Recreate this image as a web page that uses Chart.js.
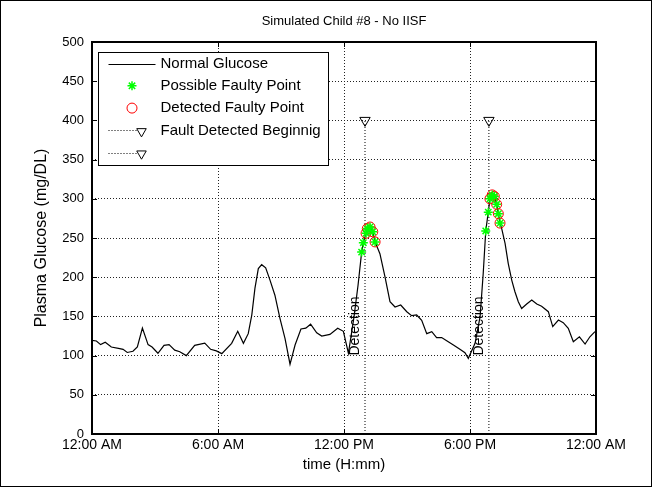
<!DOCTYPE html>
<html><head><meta charset="utf-8">
<script src="https://cdn.jsdelivr.net/npm/chart.js@4"></script>
<style>html,body{margin:0;padding:0;background:#fff;} canvas{display:block;}</style>
</head><body>
<canvas id="c" width="652" height="487"></canvas>
<script>
const chartTitle = 'Simulated Child #8 - No IISF';
const xAxisTitle = 'time (H:mm)';
const yAxisTitle = 'Plasma Glucose (mg/DL)';
const xTickLabels = ['12:00 AM', '6:00 AM', '12:00 PM', '6:00 PM', '12:00 AM'];
const legendLabels = ['Normal Glucose', 'Possible Faulty Point', 'Detected Faulty Point', 'Fault Detected Beginnig', ''];

// time in hours since midnight
const glucoseTimes = [0, 0.21, 0.41, 0.63, 0.92, 1.32, 1.48, 1.68, 1.95, 2.16, 2.40, 2.67, 2.86, 3.14, 3.43, 3.67, 3.94, 4.18, 4.49, 4.89,
  5.37, 5.65, 5.92, 6.18, 6.65, 6.94, 7.21, 7.44, 7.61, 7.76, 7.92, 8.08, 8.27, 8.48, 8.71, 8.95, 9.19, 9.43, 9.67, 9.95,
  10.18, 10.41, 10.70, 10.94, 11.33, 11.70, 11.97, 12.21, 12.48, 12.67, 12.84, 12.92, 13.05, 13.11, 13.24, 13.37, 13.48, 13.71, 13.95, 14.19,
  14.43, 14.70, 14.99, 15.22, 15.46, 15.70, 15.94, 16.18, 16.41, 16.65, 16.89, 17.21, 17.52, 17.76, 17.92, 18.24, 18.48, 18.63, 18.75, 18.87,
  18.95, 19.06, 19.16, 19.27, 19.35, 19.43, 19.51, 19.67, 19.82, 19.99, 20.14, 20.30, 20.46, 20.70, 20.94, 21.18, 21.41, 21.73, 21.94, 22.21,
  22.44, 22.68, 22.92, 23.21, 23.48, 23.71, 23.95];
const glucoseValues = [119.5, 118.6, 114, 117, 111, 109, 108, 104, 105.5, 111, 135, 114, 111, 103, 113, 114, 107, 105, 100, 113,
  116, 108, 106, 102.5, 115.7, 131, 115.7, 128, 152, 186, 211, 216, 212, 196, 177, 147.6, 122, 89, 113.5, 134,
  135, 140, 129, 125, 127, 135, 131, 103, 150, 190, 232, 244, 256, 262, 264, 258, 245, 230, 200.6, 168.8,
  162, 164.5, 156, 151, 151.8, 145, 128, 130.5, 123, 123, 119, 113.5, 108, 103.7, 96.5, 115.7, 149.6, 205, 259, 283,
  300, 305, 303, 293, 281, 269, 262, 243, 217.7, 196, 181.5, 168.8, 160, 165.8, 171, 165.8, 163, 156, 137, 145.4,
  142, 134.8, 117.8, 124, 114.8, 124, 130.5];

const faultyTimes = [12.84, 12.92, 13.05, 13.11, 13.24, 13.37, 13.48, 18.75, 18.87, 18.95, 19.06, 19.16, 19.27, 19.35, 19.43];
const faultyValues = [232, 244, 256, 262, 264, 258, 245, 259, 283, 300, 305, 303, 293, 281, 269];

const detectedTimes = [13.05, 13.11, 13.24, 13.37, 13.48, 18.95, 19.06, 19.16, 19.27, 19.35, 19.43];
const detectedValues = [256, 262, 264, 258, 245, 300, 305, 303, 293, 281, 269];

const detectionTimes = [13.0, 18.9];
const detectionMarkerLevel = 400;
const detectionText = 'Detection';
const detectionTextLevel = 100;

const toPts = (xs, ys) => xs.map((x, i) => ({x, y: ys[i]}));

const FONT = 'Liberation Sans, Arial, Helvetica, sans-serif';

function drawMarker(ctx, kind, x, y, r) {
  ctx.beginPath();
  if (kind === 'star') {
    ctx.moveTo(x - r, y); ctx.lineTo(x + r, y);
    ctx.moveTo(x, y - r); ctx.lineTo(x, y + r);
    const d = r * Math.SQRT1_2;
    ctx.moveTo(x - d, y - d); ctx.lineTo(x + d, y + d);
    ctx.moveTo(x - d, y + d); ctx.lineTo(x + d, y - d);
    ctx.stroke();
  } else if (kind === 'circle') {
    ctx.arc(x, y, r, 0, Math.PI * 2);
    ctx.stroke();
  } else if (kind === 'triangleDown') {
    let rad = Math.PI;
    ctx.moveTo(x + Math.sin(rad) * r, y - Math.cos(rad) * r);
    rad += 2 * Math.PI / 3;
    ctx.lineTo(x + Math.sin(rad) * r, y - Math.cos(rad) * r);
    rad += 2 * Math.PI / 3;
    ctx.lineTo(x + Math.sin(rad) * r, y - Math.cos(rad) * r);
    ctx.closePath();
    ctx.stroke();
  }
}

const bgPlugin = {
  id: 'bg',
  beforeDraw(chart) {
    const c = chart.ctx;
    c.save(); c.fillStyle = '#fff'; c.fillRect(0, 0, chart.width, chart.height); c.restore();
  }
};

const framePlugin = {
  id: 'frame',
  afterDraw(chart) {
    const {ctx, chartArea: a, scales: {x, y}} = chart;
    ctx.save();
    // detection text
    ctx.fillStyle = '#000';
    ctx.font = '14px ' + FONT;
    ctx.textAlign = 'left';
    ctx.textBaseline = 'middle';
    detectionTimes.forEach(t => {
      const px = x.getPixelForValue(t) - 10;
      const py = y.getPixelForValue(detectionTextLevel);
      ctx.save(); ctx.translate(px, py); ctx.rotate(-Math.PI / 2);
      ctx.fillText(detectionText, 0, 0);
      ctx.restore();
    });
    // inward tick marks
    ctx.strokeStyle = '#000'; ctx.lineWidth = 1;
    ctx.beginPath();
    x.ticks.forEach(t => {
      const px = Math.round(x.getPixelForValue(t.value)) + 0.5;
      ctx.moveTo(px, a.bottom); ctx.lineTo(px, a.bottom - 5);
      ctx.moveTo(px, a.top); ctx.lineTo(px, a.top + 5);
    });
    y.ticks.forEach(t => {
      const py = Math.round(y.getPixelForValue(t.value)) + 0.5;
      ctx.moveTo(a.left, py); ctx.lineTo(a.left + 5, py);
      ctx.moveTo(a.right, py); ctx.lineTo(a.right - 5, py);
    });
    ctx.stroke();
    ctx.lineWidth = 2;
    ctx.strokeRect(Math.round(a.left), Math.round(a.top), Math.round(a.right - a.left), Math.round(a.bottom - a.top));

    // legend
    const bx = Math.round(a.left) + 6.5, by = Math.round(a.top) + 10.5, bw = 230, bh = 113;
    ctx.fillStyle = '#fff'; ctx.fillRect(bx, by, bw, bh);
    ctx.lineWidth = 1; ctx.strokeStyle = '#000'; ctx.strokeRect(bx, by, bw, bh);
    ctx.font = '15px ' + FONT;
    ctx.textBaseline = 'middle'; ctx.textAlign = 'left';
    chart.data.datasets.forEach((ds, i) => {
      const ry = by + 11 + 22.3 * i;
      ctx.save();
      if (ds.legendKind === 'line') {
        ctx.strokeStyle = ds.borderColor; ctx.lineWidth = 1;
        ctx.beginPath(); ctx.moveTo(bx + 10, Math.round(ry) + 0.5); ctx.lineTo(bx + 57, Math.round(ry) + 0.5); ctx.stroke();
      } else if (ds.legendKind === 'star' || ds.legendKind === 'circle') {
        ctx.strokeStyle = ds.pointBorderColor; ctx.lineWidth = ds.pointBorderWidth;
        drawMarker(ctx, ds.legendKind, bx + 33.5, ry, ds.pointRadius);
      } else if (ds.legendKind === 'dotted') {
        ctx.strokeStyle = '#000'; ctx.lineWidth = 1; ctx.setLineDash([1, 2]);
        ctx.beginPath(); ctx.moveTo(bx + 10, Math.round(ry) + 0.5); ctx.lineTo(bx + 38, Math.round(ry) + 0.5); ctx.stroke();
        ctx.setLineDash([]);
        drawMarker(ctx, 'triangleDown', bx + 43, ry + 1, 5.5);
      }
      ctx.restore();
      ctx.fillStyle = '#000';
      ctx.fillText(ds.label, bx + 62, ry);
    });
    ctx.restore();
    // outer figure border
    ctx.save(); ctx.strokeStyle = '#000'; ctx.lineWidth = 1;
    ctx.strokeRect(0.5, 0.5, chart.width - 1, chart.height - 1);
    ctx.restore();
  }
};

const detectionDatasets = detectionTimes.map((t, i) => ({
  type: 'line',
  label: legendLabels[3 + i],
  legendKind: 'dotted',
  data: [{x: t, y: 0}, {x: t, y: detectionMarkerLevel}],
  borderColor: '#000', borderWidth: 1, borderDash: [1, 2],
  pointRadius: [0, 6], pointStyle: 'triangle', pointRotation: 180,
  pointBorderColor: '#000', pointBackgroundColor: 'rgba(0,0,0,0)', pointBorderWidth: 1,
  order: 3
}));

new Chart(document.getElementById('c'), {
  type: 'line',
  data: {
    datasets: [
      { label: legendLabels[0], legendKind: 'line', data: toPts(glucoseTimes, glucoseValues),
        borderColor: '#000', borderWidth: 1.2, pointRadius: 0, tension: 0, order: 2 },
      { label: legendLabels[1], legendKind: 'star', data: toPts(faultyTimes, faultyValues), showLine: false,
        pointStyle: 'star', pointRadius: 4.5, pointBorderColor: '#00ff00', pointBackgroundColor: '#00ff00',
        pointBorderWidth: 1.5, borderColor: '#00ff00', order: 0 },
      { label: legendLabels[2], legendKind: 'circle', data: toPts(detectedTimes, detectedValues), showLine: false,
        pointStyle: 'circle', pointRadius: 5, pointBorderColor: '#ff0000', pointBackgroundColor: 'rgba(0,0,0,0)',
        pointBorderWidth: 1, borderColor: '#ff0000', order: 1 },
      ...detectionDatasets
    ]
  },
  options: {
    responsive: false,
    animation: false,
    events: [],
    layout: { padding: { left: 0, right: 56, top: 0, bottom: 0 } },
    plugins: {
      legend: { display: false },
      tooltip: { enabled: false },
      title: { display: true, text: chartTitle, color: '#000', fullSize: false,
        font: { family: FONT, size: 13, weight: 'normal' }, padding: { top: 14, bottom: 12.4 } }
    },
    scales: {
      x: {
        type: 'linear', min: 0, max: 24,
        afterFit: s => { s.height = 53; },
        ticks: { stepSize: 6, color: '#000', padding: 3, maxRotation: 0, autoSkip: false,
          font: { family: FONT, size: 14 },
          callback: v => xTickLabels[Math.round(v / 6)] },
        grid: { color: '#222', lineWidth: 1, drawTicks: false },
        border: { display: false, dash: [1, 2] },
        title: { display: true, text: xAxisTitle, color: '#000', font: { family: FONT, size: 15 }, padding: { top: 0, bottom: 13 } }
      },
      y: {
        min: 0, max: 500,
        afterFit: s => { s.width = 92; },
        ticks: { stepSize: 50, color: '#000', padding: 8, font: { family: FONT, size: 13 } },
        grid: { color: '#222', lineWidth: 1, drawTicks: false },
        border: { display: false, dash: [1, 2] },
        title: { display: true, text: yAxisTitle, color: '#000', font: { family: FONT, size: 16 }, padding: { top: 32.4, bottom: 0 } }
      }
    }
  },
  plugins: [bgPlugin, framePlugin]
});
</script>
</body></html>
